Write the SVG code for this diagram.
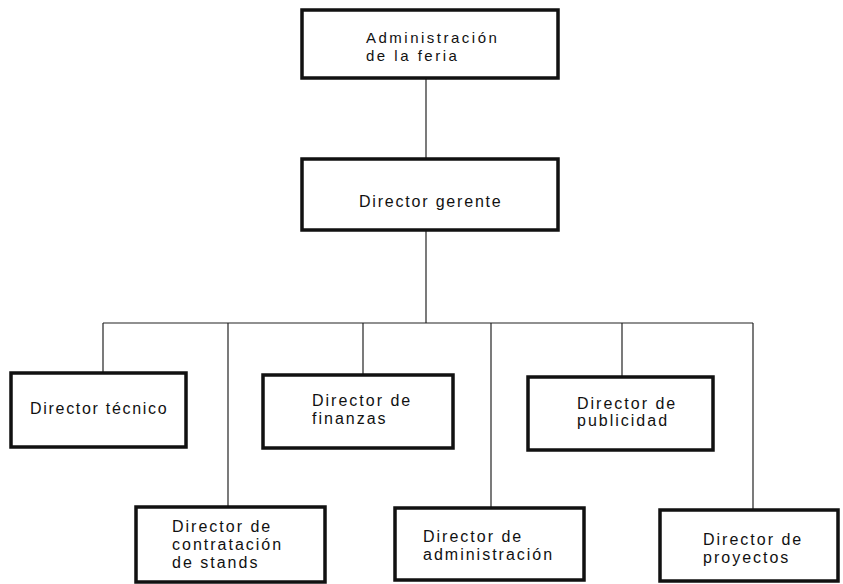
<svg xmlns="http://www.w3.org/2000/svg" width="843" height="584" viewBox="0 0 843 584">
<style>
.box{fill:#fff;stroke:#111;stroke-width:3.5}
.t{font-family:"Liberation Sans",Arial,sans-serif;font-size:16px;letter-spacing:2px;fill:#111}
.c{stroke:#222;stroke-width:1.2;fill:none}
</style>
<rect width="843" height="584" fill="#fff"/>
<g id="connectors">
<line class="c" x1="426" y1="78" x2="426" y2="159"/>
<line class="c" x1="426" y1="230" x2="426" y2="323"/>
<line class="c" x1="103" y1="323" x2="753" y2="323"/>
<line class="c" x1="103" y1="323" x2="103" y2="373"/>
<line class="c" x1="228" y1="323" x2="228" y2="507"/>
<line class="c" x1="363" y1="323" x2="363" y2="375"/>
<line class="c" x1="491" y1="323" x2="491" y2="508"/>
<line class="c" x1="622" y1="323" x2="622" y2="377"/>
<line class="c" x1="753" y1="323" x2="753" y2="510"/>
</g>
<g id="admin-feria">
<rect class="box" x="302" y="10" width="256" height="68"/>
<text class="t" x="366" y="43" style="font-size:15px;letter-spacing:2.5px">Administración</text>
<text class="t" x="366" y="61" style="font-size:15px;letter-spacing:2.5px">de la feria</text>
</g>
<g id="director-gerente">
<rect class="box" x="302" y="159" width="256" height="71"/>
<text class="t" x="359" y="207" style="letter-spacing:1.8px">Director gerente</text>
</g>
<g id="director-tecnico">
<rect class="box" x="11" y="373" width="175" height="74"/>
<text class="t" x="30" y="414" style="letter-spacing:1.7px">Director técnico</text>
</g>
<g id="director-finanzas">
<rect class="box" x="263" y="375" width="190" height="73"/>
<text class="t" x="312" y="406">Director de</text>
<text class="t" x="312" y="424">finanzas</text>
</g>
<g id="director-publicidad">
<rect class="box" x="528" y="377" width="185" height="73"/>
<text class="t" x="577" y="409">Director de</text>
<text class="t" x="577" y="426">publicidad</text>
</g>
<g id="director-stands">
<rect class="box" x="136" y="507" width="189" height="75"/>
<text class="t" x="172" y="532">Director de</text>
<text class="t" x="172" y="550">contratación</text>
<text class="t" x="172" y="568">de stands</text>
</g>
<g id="director-administracion">
<rect class="box" x="395" y="508" width="189" height="72"/>
<text class="t" x="423" y="542">Director de</text>
<text class="t" x="423" y="560">administración</text>
</g>
<g id="director-proyectos">
<rect class="box" x="660" y="510" width="178" height="71"/>
<text class="t" x="703" y="545">Director de</text>
<text class="t" x="703" y="563">proyectos</text>
</g>
</svg>
